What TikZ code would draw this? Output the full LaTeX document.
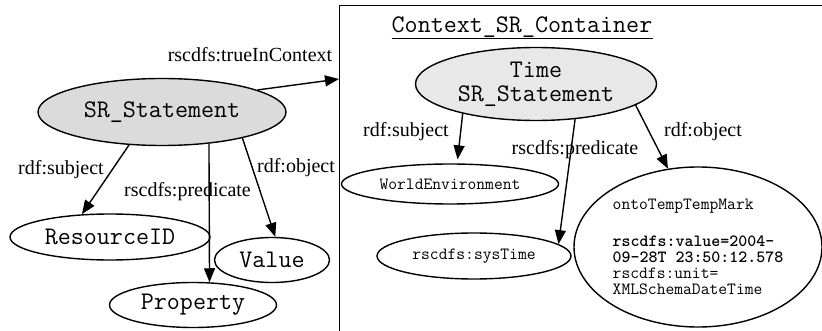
\documentclass[tikz,border=0pt]{standalone}
\usepackage{fontspec}
\setmainfont{Liberation Serif}
\usetikzlibrary{arrows.meta,shapes.geometric}
\tikzset{
  ell/.style={ellipse, draw, line width=1.4pt, inner sep=0pt},
  big/.style={font=\ttfamily\fontsize{25.3}{27}\selectfont},
  small/.style={font=\ttfamily\fontsize{17.1}{16}\selectfont},
  lbl/.style={font=\fontsize{20}{22}\selectfont, anchor=base, inner sep=0pt},
  arr/.style={-{Triangle[length=14pt,width=11pt]}, line width=1.4pt},
}
\begin{document}
\begin{tikzpicture}[x=1pt,y=-1pt]
\useasboundingbox (0,0) rectangle (822,331);
\clip (0,0) rectangle (822,331);
% container box
\node[draw, line width=1.4pt, anchor=north west, minimum width=500pt, minimum height=340pt, inner sep=0pt] (ctx) at (339,5) {};
\node[big, anchor=base, inner sep=0pt] (title) at (522,33) {Context\_SR\_Container};
\draw[line width=1pt] ([yshift=-6pt]title.base west) -- ([yshift=-6pt]title.base east);
% left graph
\node[ell, big, fill=gray!28, minimum width=248pt, minimum height=67pt] (sr) at (162,112) {SR\_Statement};
\node[ell, big, minimum width=200pt, minimum height=46pt] (rid) at (110,237) {ResourceID};
\node[ell, big, minimum width=115pt, minimum height=45pt] (val) at (272,260) {Value};
\node[ell, big, minimum width=167pt, minimum height=45pt] (prop) at (193,305) {Property};
% right graph
\node[ell, big, fill=gray!18, align=center, minimum width=241pt, minimum height=73pt] (tsr) at (536,84) {Time\\[-3pt]SR\_Statement};
\node[ell, small, minimum width=217pt, minimum height=40pt] (we) at (450,184) {WorldEnvironment};
\node[ell, small, minimum width=194pt, minimum height=46pt] (sys) at (474,256) {rscdfs:sysTime};
\node[ell, small, align=left, minimum width=248pt, minimum height=160pt] (val2) at (698,247)
  {ontoTempTempMark\\[21pt]\textbf{rscdfs:value=2004-}\\\textbf{09-28T 23:50:12.578}\\rscdfs:unit=\\XMLSchemaDateTime};
% left arrows
\draw[arr] (sr.13.6) -- ([yshift=-74pt]ctx.north west);
\draw[arr] (sr.-135) -- (rid.141);
\draw[arr] (sr.-34.6) -- (prop.54.7);
\draw[arr] (sr.-18.2) -- (val.82.4);
% right arrows
\draw[arr, shorten >=4pt] (tsr.-158.3) -- (we.71);
\draw[arr] (tsr.-42.3) -- (sys.8);
\draw[arr] (tsr.-12) -- (val2.111);
% labels
\node[lbl] (l1) at (250,62) {rscdfs:trueInContext};
\node[lbl] (l2) at (61,175) {rdf:subject};
\node[lbl] (l3) at (187.5,197) {rscdfs:predicate};
\node[lbl] (l4) at (296,173) {rdf:object};
\node[lbl] (l5) at (406,137) {rdf:subject};
\node[lbl] (l6) at (575,155) {rscdfs:predicate};
\node[lbl] (l7) at (703,137) {rdf:object};
\end{tikzpicture}
\end{document}
